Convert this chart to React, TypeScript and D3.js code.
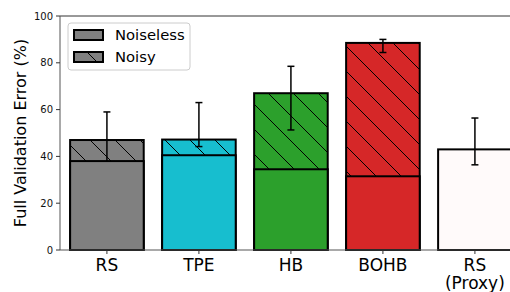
import { useEffect, useRef } from 'react'
import * as d3 from 'd3'

const categories = ['RS', 'TPE', 'HB', 'BOHB', 'RS\n(Proxy)']
const noiseless = [38, 40.5, 34.5, 31.5, null]
const noisy = [47, 47.2, 67, 88.5, 43]
const errLow = [35, 44.2, 51.3, 84.4, 36.4]
const errHigh = [59, 63, 78.5, 90, 56.4]
const colors = ['#808080', '#17becf', '#2ca02c', '#d62728', '#fffafa']
const yTicks = [0, 20, 40, 60, 80, 100]

const W = 510
const H = 292
const font = 'DejaVu Sans, sans-serif'

export default function App() {
  const ref = useRef<SVGSVGElement>(null)

  useEffect(() => {
    if (!ref.current) return
    const svg = d3.select(ref.current)
    svg.selectAll('*').remove()

    const x = d3.scaleLinear().domain([-0.51, 5]).range([60, 60 + 92 * 5.51])
    const y = d3.scaleLinear().domain([0, 100]).range([250, 16])
    const bw = (x(0.8) - x(0)) / 2

    // hatch pattern
    const defs = svg.append('defs')
    const pat = defs
      .append('pattern')
      .attr('id', 'hatch')
      .attr('patternUnits', 'userSpaceOnUse')
      .attr('width', 25)
      .attr('height', 25)
    pat
      .append('path')
      .attr('d', 'M0,0L25,25M-5,20L5,30M20,-5L30,5')
      .attr('stroke', '#000')
      .attr('stroke-width', 1)

    const g = svg.append('g')

    // noisy bars (full height)
    categories.forEach((c, i) => {
      const hatched = noiseless[i] !== null
      g.append('rect')
        .attr('x', x(i) - bw)
        .attr('y', y(noisy[i]))
        .attr('width', bw * 2)
        .attr('height', y(0) - y(noisy[i]))
        .attr('fill', colors[i])
      if (hatched) {
        g.append('rect')
          .attr('x', x(i) - bw)
          .attr('y', y(noisy[i]))
          .attr('width', bw * 2)
          .attr('height', y(0) - y(noisy[i]))
          .attr('fill', 'url(#hatch)')
      }
      g.append('rect')
        .attr('x', x(i) - bw)
        .attr('y', y(noisy[i]))
        .attr('width', bw * 2)
        .attr('height', y(0) - y(noisy[i]))
        .attr('fill', 'none')
        .attr('stroke', '#000')
        .attr('stroke-width', 2)
    })

    // error bars
    categories.forEach((c, i) => {
      const cx = x(i)
      g.append('line')
        .attr('x1', cx).attr('x2', cx)
        .attr('y1', y(errLow[i])).attr('y2', y(errHigh[i]))
        .attr('stroke', '#000').attr('stroke-width', 1.5)
      ;[errLow[i], errHigh[i]].forEach((v) => {
        g.append('line')
          .attr('x1', cx - 3.5).attr('x2', cx + 3.5)
          .attr('y1', y(v)).attr('y2', y(v))
          .attr('stroke', '#000').attr('stroke-width', 1.5)
      })
    })

    // noiseless bars on top
    categories.forEach((c, i) => {
      const v = noiseless[i]
      if (v === null) return
      g.append('rect')
        .attr('x', x(i) - bw)
        .attr('y', y(v))
        .attr('width', bw * 2)
        .attr('height', y(0) - y(v))
        .attr('fill', colors[i])
        .attr('stroke', '#000')
        .attr('stroke-width', 2)
    })

    // spines
    svg.append('line').attr('x1', 60).attr('x2', W).attr('y1', 16).attr('y2', 16)
      .attr('stroke', '#333').attr('stroke-width', 1)
    svg.append('line').attr('x1', 60).attr('x2', W).attr('y1', 250).attr('y2', 250)
      .attr('stroke', '#555').attr('stroke-width', 1)
    svg.append('line').attr('x1', 60).attr('x2', 60).attr('y1', 16).attr('y2', 250)
      .attr('stroke', '#555').attr('stroke-width', 1)

    // y ticks
    yTicks.forEach((t) => {
      svg.append('line').attr('x1', 56).attr('x2', 60).attr('y1', y(t)).attr('y2', y(t))
        .attr('stroke', '#333')
      svg.append('text')
        .attr('x', 53).attr('y', y(t)).attr('dy', '0.35em')
        .attr('text-anchor', 'end')
        .style('font', `10px ${font}`)
        .attr('fill', '#111')
        .text(t)
    })

    // x ticks
    categories.forEach((c, i) => {
      svg.append('line').attr('x1', x(i)).attr('x2', x(i)).attr('y1', 250).attr('y2', 254)
        .attr('stroke', '#333')
      const txt = svg.append('text')
        .attr('text-anchor', 'middle')
        .style('font', `17px ${font}`)
        .attr('fill', '#000')
      c.split('\n').forEach((line, k) => {
        txt.append('tspan').attr('x', x(i)).attr('y', 271 + k * 18).text(line)
      })
    })

    // y label
    svg.append('text')
      .attr('transform', `translate(26,${y(50)}) rotate(-90)`)
      .attr('text-anchor', 'middle')
      .style('font', `16px ${font}`)
      .attr('fill', '#000')
      .text('Full Validation Error (%)')

    // legend
    const lg = svg.append('g')
    lg.append('rect')
      .attr('x', 68).attr('y', 23).attr('width', 122).attr('height', 47)
      .attr('rx', 3).attr('fill', '#fff').attr('fill-opacity', 0.8)
      .attr('stroke', '#ccc').attr('stroke-width', 1)
    const items = [
      { label: 'Noiseless', hatch: false, yy: 30 },
      { label: 'Noisy', hatch: true, yy: 52 },
    ]
    items.forEach((it) => {
      lg.append('rect')
        .attr('x', 74).attr('y', it.yy).attr('width', 29).attr('height', 10)
        .attr('fill', '#808080')
      if (it.hatch) {
        lg.append('path')
          .attr('d', `M${87},${it.yy}L${97},${it.yy + 10}`)
          .attr('stroke', '#000').attr('stroke-width', 1)
      }
      lg.append('rect')
        .attr('x', 74).attr('y', it.yy).attr('width', 29).attr('height', 10)
        .attr('fill', 'none').attr('stroke', '#000').attr('stroke-width', 2)
      lg.append('text')
        .attr('x', 115).attr('y', it.yy + 10)
        .style('font', `14.8px ${font}`)
        .attr('fill', '#000')
        .text(it.label)
    })
  }, [])

  return (
    <svg
      ref={ref}
      width={W}
      height={H}
      style={{ position: 'absolute', left: 0, top: 0, background: '#fff' }}
    />
  )
}
